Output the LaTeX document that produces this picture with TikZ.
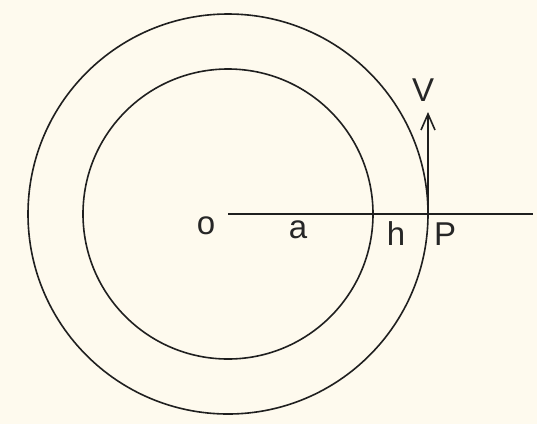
\documentclass[tikz,border=0pt]{standalone}
\usepackage{fontspec}
\setmainfont{Liberation Sans}
\usetikzlibrary{arrows.meta}
\definecolor{paper}{HTML}{FEFAEE}
\begin{document}
\begin{tikzpicture}[x=1pt,y=-1pt,
  ln/.style={line width=1.6pt,black!88},
  lbl/.style={font=\fontsize{33}{33}\selectfont,inner sep=0pt,text=black!85}]
\fill[paper] (0,0) rectangle (537,424);
\useasboundingbox (0,0) rectangle (537,424);
\coordinate (O) at (228,214);
\coordinate (E) at (533,214);
\coordinate (P) at (428,214);
\coordinate (T) at (428,112);
\draw[ln] (O) circle[radius=200];
\draw[ln] (O) circle[radius=145];
\draw[ln] (O) -- (E);
\draw[ln,-{Straight Barb[length=16pt,width=14pt,line width=1.6pt]}] (P) -- (T);
\node[lbl] (lo) at (206,226) {o};
\node[lbl] (la) at (298,230) {a};
\node[lbl] (lh) at (396,234) {h};
\node[lbl] (lP) at (445,234) {P};
\node[lbl] (lV) at (423,90) {V};
\end{tikzpicture}
\end{document}
